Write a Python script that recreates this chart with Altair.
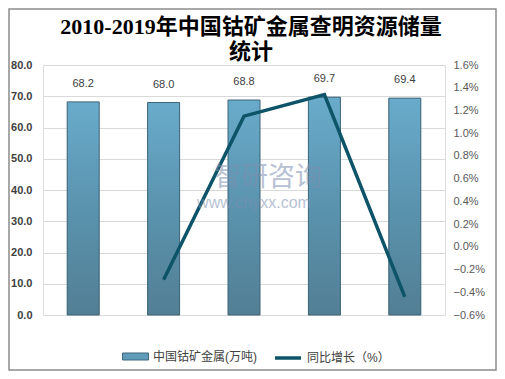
import altair as alt
import pandas as pd

years = ["2010", "2015", "2017", "2018", "2019"]
reserves = [68.2, 68.0, 68.8, 69.7, 69.4]
growth = [None, -0.29, 1.15, 1.34, -0.44]
left_ticks = [0, 10, 20, 30, 40, 50, 60, 70, 80]
right_ticks = [-0.6, -0.4, -0.2, 0.0, 0.2, 0.4, 0.6, 0.8, 1.0, 1.2, 1.4, 1.6]
title_lines = ["2010-2019年中国钴矿金属查明资源储量", "统计"]
bar_series = "中国钴矿金属(万吨)"
line_series = "同比增长（%）"
wm_name = "智研咨询"
wm_url = "www.chyxx.com"

df = pd.DataFrame({"year": years, "reserve": reserves, "growth": growth,
                   "bs": bar_series, "ls": line_series})
one = pd.DataFrame({"k": [0]})

W, H = 402, 250
PL, PT, PR, PB = 35, 57, 52, 56
SANS = "Liberation Sans, Noto Sans CJK SC"
SERIF = "Liberation Serif, Noto Sans CJK SC"
TXT = "#404040"

x = alt.X("year:N", sort=years,
          scale=alt.Scale(paddingInner=0.6, paddingOuter=0.3),
          axis=alt.Axis(title=None, labelAngle=0, labelFont=SANS, labelFontWeight="bold",
                        labelFontSize=12, labelColor=TXT, labelPadding=10,
                        domain=False, ticks=False))
x_noaxis = alt.X("year:N", sort=years,
                 scale=alt.Scale(paddingInner=0.6, paddingOuter=0.3), axis=None)

yscale = alt.Scale(domain=[0, 80], nice=False, zero=True)
yl = alt.Y("reserve:Q", scale=yscale,
           axis=alt.Axis(title=None, values=left_ticks, format=".1f", labelFont=SANS,
                         labelFontWeight="bold", labelFontSize=11, labelColor=TXT,
                         labelPadding=11, domain=False, ticks=False, grid=True,
                         gridColor="#d9d9d9", gridWidth=1))
yl_noaxis = alt.Y("reserve:Q", scale=yscale, axis=None)

grad = alt.Gradient(gradient="linear",
                    stops=[alt.GradientStop(color="#69abcb", offset=0),
                           alt.GradientStop(color="#5a93ae", offset=0.5),
                           alt.GradientStop(color="#527f94", offset=1)],
                    x1=0, x2=0, y1=0, y2=1)

bars_legend = alt.Chart(df).mark_bar(size=32).encode(
    x=x, y=yl,
    fill=alt.Fill("bs:N", scale=alt.Scale(range=["#5f9cba"]),
                  legend=alt.Legend(title=None, orient="none", legendX=79, legendY=278,
                                    padding=0, symbolType="M-1,-0.27H1V0.27H-1Z",
                                    symbolSize=676, symbolStrokeColor="#41687b",
                                    symbolStrokeWidth=1, labelFont=SANS, labelFontSize=12,
                                    labelColor=TXT, labelOffset=4)))

bars = alt.Chart(df).mark_bar(size=32, fill=grad, stroke="#3f6578", strokeWidth=1).encode(
    x=x_noaxis, y=yl_noaxis)

labels = alt.Chart(df).mark_text(dy=-18, baseline="middle", fontSize=11, font=SANS,
                                 color=TXT).encode(
    x=x_noaxis, y=yl_noaxis, text=alt.Text("reserve:Q", format=".1f"))

line = alt.Chart(df).transform_filter("datum.growth != null").mark_line(
    strokeWidth=3.5, strokeJoin="miter").encode(
    x=x_noaxis,
    y=alt.Y("growth:Q", scale=alt.Scale(domain=[-0.6, 1.6], nice=False, zero=False),
            axis=alt.Axis(title=None, orient="right", values=right_ticks,
                          labelExpr="format(datum.value, '.1f') + '%'", labelFont=SANS,
                          labelFontSize=11, labelColor="#595959", labelPadding=8,
                          domain=False, ticks=False, grid=False)),
    stroke=alt.Stroke("ls:N", scale=alt.Scale(range=["#0e5468"]),
                      legend=alt.Legend(title=None, orient="none", legendX=230, legendY=278,
                                        padding=0, symbolType="stroke", symbolSize=676,
                                        symbolStrokeWidth=3.5, labelFont=SANS,
                                        labelFontSize=12, labelColor=TXT, labelOffset=4)))

wm1 = alt.Chart(one).mark_text(fontSize=27, font=SANS, color="#7d8fb0", opacity=0.55,
                               baseline="middle", align="center").encode(
    x=alt.value(225), y=alt.value(113), text=alt.value(wm_name))
wm2 = alt.Chart(one).mark_text(fontSize=16, font=SANS, color="#7d8fb0", opacity=0.55,
                               baseline="middle", align="center").encode(
    x=alt.value(211), y=alt.value(138), text=alt.value(wm_url))

title1 = alt.Chart(one).mark_text(fontSize=22, font=SERIF, fontWeight="bold", color="#000000",
                                  baseline="middle", align="center").encode(
    x=alt.value(208), y=alt.value(-38), text=alt.value(title_lines[0]))
title2 = alt.Chart(one).mark_text(fontSize=22, font=SERIF, fontWeight="bold", color="#000000",
                                  baseline="middle", align="center").encode(
    x=alt.value(208), y=alt.value(-13), text=alt.value(title_lines[1]))

frame = alt.Chart(one).mark_rect(fill=None, stroke="#8c8c8c", strokeWidth=1.5).encode(
    x=alt.value(-PL + 1), x2=alt.value(W + PR - 1),
    y=alt.value(-PT + 1), y2=alt.value(H + PB - 1))

chart = alt.layer(bars_legend, bars, labels, line, wm1, wm2, title1, title2, frame).resolve_scale(
    y="independent", fill="independent", stroke="independent"
).properties(
    width=W, height=H,
    autosize=alt.AutoSizeParams(type="none"),
    padding={"left": PL, "top": PT, "right": PR, "bottom": PB},
).configure_view(stroke=None).configure(background="white")

chart.save("out.html", embed_options={"renderer": "svg", "actions": False})
